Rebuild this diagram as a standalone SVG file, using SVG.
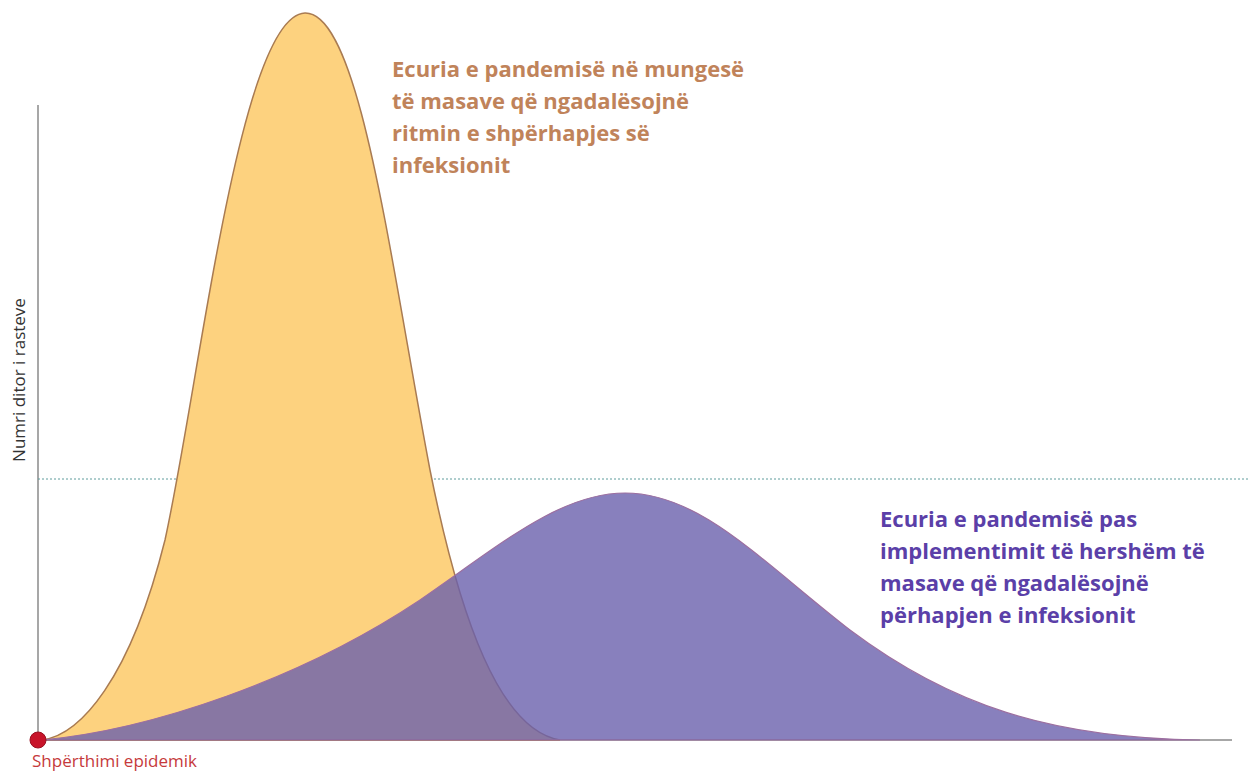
<svg xmlns="http://www.w3.org/2000/svg" width="1248" height="771" viewBox="0 0 1248 771">
<style>
.t1{font-family:"Open Sans","Liberation Sans",sans-serif;font-weight:bold;font-size:22px;fill:#C0835A}
.t2{font-family:"Open Sans","Liberation Sans",sans-serif;font-weight:bold;font-size:22px;fill:#5B3FA8}
.ax{font-family:"Open Sans","Liberation Sans",sans-serif;font-size:17px;fill:#333}
.red{font-family:"Open Sans","Liberation Sans",sans-serif;font-size:17px;fill:#C63A3C}
</style>
<rect width="1248" height="771" fill="#fff"/>
<g id="axes">
<line x1="38" y1="105" x2="38" y2="740" stroke="#8a8a8a" stroke-width="1.5"/>
<line x1="38" y1="740" x2="1232" y2="740" stroke="#8a8a8a" stroke-width="1.5"/>
<line x1="38" y1="479" x2="1248" y2="479" stroke="#5f9c9c" stroke-width="1" stroke-dasharray="2,2"/>
</g>
<g id="curve-no-measures">
<path d="M42,740 C80,735 130,680 165,540 C200,380 240,15 305,13 C360,12 390,260 430,470 C460,620 500,730 560,740 Z" fill="#FDD27F" stroke="#A97B52" stroke-width="1.5"/>
</g>
<g id="curve-measures">
<path d="M42,740 C150,730 300,680 420,600 C500,545 560,493 625,493 C700,493 760,560 850,630 C950,705 1050,738 1200,740 Z" fill="#6A60AC" fill-opacity="0.8" stroke="#9C6FA0" stroke-width="1.2"/>
</g>
<g id="outbreak">
<circle cx="38" cy="740" r="8" fill="#C8142A" stroke="#9a1020" stroke-width="1"/>
<text class="red" x="32" y="767">Shpërthimi epidemik</text>
</g>
<g id="y-label">
<text class="ax" transform="translate(25,380) rotate(-90)" text-anchor="middle">Numri ditor i rasteve</text>
</g>
<g id="label-no-measures">
<text class="t1" x="392" y="77">Ecuria e pandemisë në mungesë</text>
<text class="t1" x="392" y="109">të masave që ngadalësojnë</text>
<text class="t1" x="392" y="141">ritmin e shpërhapjes së</text>
<text class="t1" x="392" y="173">infeksionit</text>
</g>
<g id="label-measures">
<text class="t2" x="880" y="527">Ecuria e pandemisë pas</text>
<text class="t2" x="880" y="559">implementimit të hershëm të</text>
<text class="t2" x="880" y="591">masave që ngadalësojnë</text>
<text class="t2" x="880" y="623">përhapjen e infeksionit</text>
</g>
</svg>
